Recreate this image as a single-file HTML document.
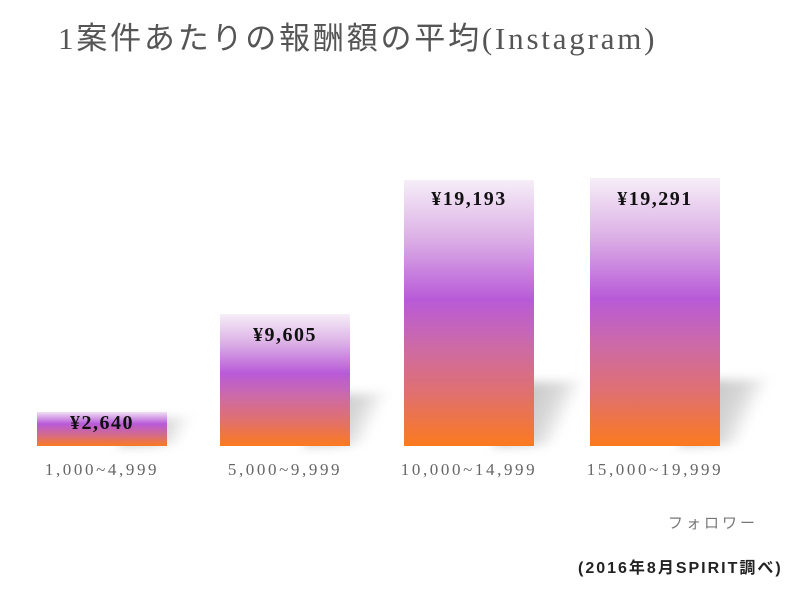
<!DOCTYPE html>
<html><head><meta charset="utf-8"><style>
body{margin:0;width:800px;height:589px;background:#fff;position:relative;overflow:hidden;font-family:"Liberation Serif","Noto Serif CJK SC",serif}
.t{position:absolute;left:58px;top:13px;font-size:31px;color:#555;font-family:"Liberation Serif","Noto Sans CJK JP",serif;white-space:nowrap;letter-spacing:2.8px}
.b{position:absolute;bottom:143px;width:130px;background:linear-gradient(to bottom,#f6eef8 0%,#dcb0e6 22%,#b85ad8 45%,#cc6aa8 62%,#e07070 80%,#fb7a1e 100%)}
.sh{position:absolute;bottom:143px;height:60px;width:60px;background:linear-gradient(to right,#c4c4c4,#d8d8d8 60%,rgba(255,255,255,0));filter:blur(5px);transform:skewX(-25deg);transform-origin:bottom}
.v{position:absolute;width:130px;text-align:center;font-weight:bold;font-size:20px;color:#111;letter-spacing:1.5px}
.c{position:absolute;top:460px;width:190px;text-align:center;font-size:17px;color:#666;letter-spacing:2.6px}
</style></head><body>
<div class="t">1案件あたりの報酬額の平均(Instagram)</div>
<div class="sh" style="left:120px;height:28px"></div>
<div class="sh" style="left:305px;height:52px"></div>
<div class="sh" style="left:495px;height:64px"></div>
<div class="sh" style="left:680px;height:66px"></div>
<div class="b" style="left:37px;height:34px;background:linear-gradient(to bottom,#f0e0f4 0%,#b85ad8 35%,#d26a90 65%,#fb7a1e 100%)"></div>
<div class="b" style="left:220px;height:132px"></div>
<div class="b" style="left:404px;height:266px"></div>
<div class="b" style="left:590px;height:268px"></div>
<div class="v" style="left:37px;top:412px">¥2,640</div>
<div class="v" style="left:220px;top:324px">¥9,605</div>
<div class="v" style="left:404px;top:188px">¥19,193</div>
<div class="v" style="left:590px;top:188px">¥19,291</div>
<div class="c" style="left:7px">1,000~4,999</div>
<div class="c" style="left:190px">5,000~9,999</div>
<div class="c" style="left:374px">10,000~14,999</div>
<div class="c" style="left:560px">15,000~19,999</div>
<div style="position:absolute;left:668px;top:512px;font-size:15px;color:#777;font-family:'Noto Sans CJK JP',sans-serif;letter-spacing:3px">フォロワー</div>
<div style="position:absolute;left:578px;top:554px;font-size:16px;color:#222;font-weight:bold;font-family:'Liberation Sans','Noto Sans CJK JP',sans-serif;letter-spacing:2px">(2016年8月SPIRIT調べ)</div>
</body></html>
